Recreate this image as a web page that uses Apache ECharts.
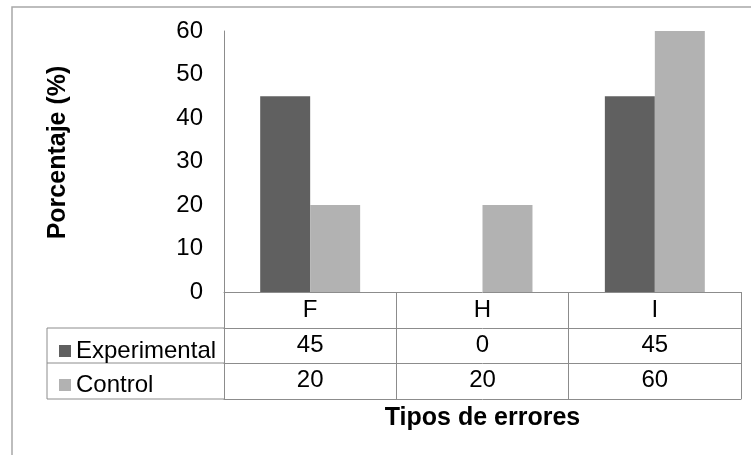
<!DOCTYPE html>
<html>
<head>
<meta charset="utf-8">
<script src="https://cdn.jsdelivr.net/npm/echarts@6/dist/echarts.min.js"></script>
<style>
html,body{margin:0;padding:0;background:#fff;}
#c{width:751px;height:455px;}
</style>
</head>
<body>
<div id="c"></div>
<script>
const categories = ['F', 'H', 'I'];
const seriesNames = ['Experimental', 'Control'];
const experimental = [45, 0, 45];
const control = [20, 20, 60];
const yTicks = [0, 10, 20, 30, 40, 50, 60];
const yAxisTitle = 'Porcentaje (%)';
const xAxisTitle = 'Tipos de errores';

const FONT = "'Liberation Sans', Arial, sans-serif";
const LINE = '#8c8c8c';
const DARK = '#606060';
const LIGHT = '#b2b2b2';
const FS = 24;

const chart = echarts.init(document.getElementById('c'), null, {renderer: 'canvas'});

function rowAxis(offset, tickLen, values, showLine) {
  return {
    type: 'category',
    data: categories,
    position: 'bottom',
    offset: offset,
    boundaryGap: true,
    axisLine: {show: showLine, lineStyle: {color: LINE, width: 1}},
    axisTick: {show: tickLen > 0, length: tickLen, interval: 0, lineStyle: {color: LINE, width: 1}},
    axisLabel: {
      show: !!values,
      interval: 0,
      margin: 5,
      fontSize: FS,
      fontFamily: FONT,
      color: '#000',
      formatter: function (v, i) { return values ? String(values[i]) : ''; }
    },
    splitLine: {show: false}
  };
}

const option = {
  animation: false,
  backgroundColor: '#fff',
  grid: {left: 224, right: 10, top: 31, bottom: 163, containLabel: false, outerBoundsMode: 'none'},
  legend: {
    orient: 'vertical',
    left: 54,
    top: 334,
    itemWidth: 12,
    itemHeight: 12,
    itemGap: 10,
    icon: 'rect',
    selectedMode: false,
    data: seriesNames,
    textStyle: {fontSize: FS, fontFamily: FONT, color: '#000'}
  },
  xAxis: [
    {
      type: 'category',
      data: categories,
      position: 'bottom',
      boundaryGap: true,
      axisLine: {show: true, lineStyle: {color: LINE, width: 1}},
      axisTick: {show: true, length: 36, interval: 0, lineStyle: {color: LINE, width: 1}},
      axisLabel: {interval: 0, margin: 6, fontSize: FS, fontFamily: FONT, color: '#000'},
      splitLine: {show: false}
    },
    rowAxis(36, 35, experimental, true),
    rowAxis(71, 36, control, true),
    Object.assign(rowAxis(107, 0, null, true), {
      name: xAxisTitle,
      nameLocation: 'middle',
      nameGap: 7,
      nameTextStyle: {fontSize: 25, fontWeight: 'bold', fontFamily: FONT, color: '#000', verticalAlign: 'top'}
    })
  ],
  yAxis: {
    type: 'value',
    min: 0,
    max: 60,
    interval: 10,
    axisLine: {show: true, lineStyle: {color: LINE, width: 1}},
    axisTick: {show: false},
    splitLine: {show: false},
    axisLabel: {
      margin: 21,
      fontSize: FS,
      fontFamily: FONT,
      color: '#000',
      formatter: function (v) { return yTicks.indexOf(v) >= 0 ? String(v) : ''; }
    },
    name: yAxisTitle,
    nameLocation: 'middle',
    nameRotate: 90,
    nameGap: 153,
    nameTextStyle: {fontSize: 25, fontWeight: 'bold', fontFamily: FONT, color: '#000', padding: [0, 0, 0, 18]}
  },
  series: [
    {
      name: seriesNames[0],
      type: 'bar',
      data: experimental,
      barGap: '0%',
      barCategoryGap: '42%',
      itemStyle: {color: DARK},
      emphasis: {disabled: true}
    },
    {
      name: seriesNames[1],
      type: 'bar',
      data: control,
      barGap: '0%',
      barCategoryGap: '42%',
      itemStyle: {color: LIGHT},
      emphasis: {disabled: true}
    }
  ]
};

chart.setOption(option);

// Table lines for the legend column (left part of the data table)
const zeroY = chart.convertToPixel({yAxisIndex: 0}, 0);
const plotLeft = 224;
const tableLeft = 47;
const rowYs = [zeroY + 36, zeroY + 71, zeroY + 107];
const g = [];
rowYs.forEach(function (y) {
  g.push({type: 'line', silent: true, shape: {x1: tableLeft, y1: y, x2: plotLeft, y2: y}, style: {stroke: LINE, lineWidth: 1}});
});
g.push({type: 'line', silent: true, shape: {x1: tableLeft, y1: rowYs[0], x2: tableLeft, y2: rowYs[2]}, style: {stroke: LINE, lineWidth: 1}});
// outer frame
g.push({type: 'rect', silent: true, shape: {x: 12, y: 7, width: 780, height: 480}, style: {fill: 'none', stroke: '#a8a8a8', lineWidth: 1.5}});
chart.setOption({graphic: g});
</script>
</body>
</html>
